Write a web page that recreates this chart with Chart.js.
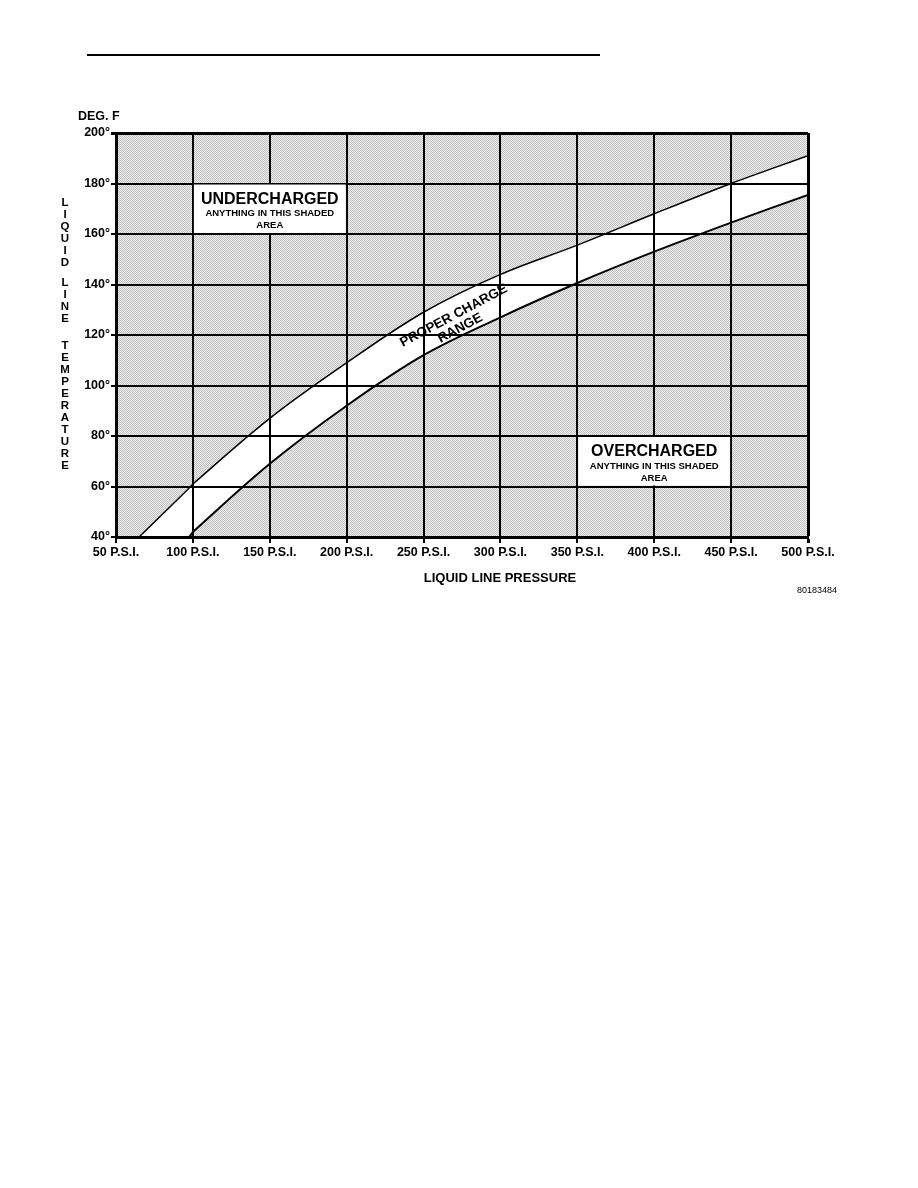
<!DOCTYPE html>
<html>
<head>
<meta charset="utf-8">
<script src="https://cdn.jsdelivr.net/npm/chart.js@4.4.1/dist/chart.umd.min.js"></script>
<style>
  body { margin: 0; background: #fff; }
  .rule { position: absolute; left: 87px; top: 54px; width: 513px; height: 2px; background: #000; }
  #chart { position: absolute; left: 0; top: 0; }
</style>
</head>
<body>
<div class="rule"></div>
<canvas id="chart" width="918" height="640"></canvas>
<script>
// liquid line pressure (psi) and the two edges of the proper charge band (deg F)
const pressure  = [65, 97, 100, 150, 200, 250, 300, 350,   400, 450,   500];
const upperTemp = [40, 59, 61,  87,  109, 129, 144, 155.6, 168, 180,   191];
const lowerTemp = [40, 40, 42,  69,  92,  112, 127, 140.6, 153, 164.5, 175.5];

const xTickLabels = ['50 P.S.I.', '100 P.S.I.', '150 P.S.I.', '200 P.S.I.', '250 P.S.I.',
                     '300 P.S.I.', '350 P.S.I.', '400 P.S.I.', '450 P.S.I.', '500 P.S.I.'];
const yTickLabels = ['40°', '60°', '80°', '100°', '120°', '140°', '160°', '180°', '200°'];

const FONT = '"Liberation Sans", Arial, sans-serif';

// light gray dotted screen for the shaded areas
function makePattern(ctx) {
    const c = document.createElement('canvas');
    c.width = 4; c.height = 4;
    const g = c.getContext('2d');
    g.fillStyle = '#ececec';
    g.fillRect(0, 0, 4, 4);
    g.fillStyle = '#c2c2c2';
    for (let y = 0; y < 4; y++) {
        for (let x = 0; x < 4; x++) {
            if ((x + y) % 2 === 0) g.fillRect(x, y, 1, 1);
        }
    }
    return ctx.createPattern(c, 'repeat');
}

const shadePlugin = {
    id: 'shade',
    beforeDraw(chart) {
        const { ctx, chartArea: a } = chart;
        ctx.save();
        ctx.fillStyle = makePattern(ctx);
        ctx.fillRect(a.left, a.top, a.right - a.left, a.bottom - a.top);
        ctx.restore();
    }
};

function labelBox(chart, x0, x1, y0, y1, title) {
    const { ctx, scales: { x, y } } = chart;
    const l = x.getPixelForValue(x0) + 1, r = x.getPixelForValue(x1) - 1;
    const t = y.getPixelForValue(y1) + 1, b = y.getPixelForValue(y0) - 1;
    ctx.fillStyle = '#fff';
    ctx.fillRect(l, t, r - l, b - t);
    const cx = (l + r) / 2;
    ctx.fillStyle = '#000';
    ctx.textAlign = 'center';
    ctx.textBaseline = 'middle';
    ctx.font = 'bold 16px ' + FONT;
    ctx.fillText(title, cx, t + 15);
    ctx.font = 'bold 9.5px ' + FONT;
    ctx.fillText('ANYTHING IN THIS SHADED', cx, t + 29);
    ctx.fillText('AREA', cx, t + 41);
}

const textPlugin = {
    id: 'texts',
    afterDraw(chart) {
        const { ctx, scales: { x, y } } = chart;
        ctx.save();
        labelBox(chart, 100, 200, 160, 180, 'UNDERCHARGED');
        labelBox(chart, 350, 450, 60, 80, 'OVERCHARGED');

        // band label
        ctx.save();
        ctx.translate(x.getPixelForValue(269), y.getPixelForValue(128.3));
        ctx.rotate(-28 * Math.PI / 180);
        ctx.fillStyle = '#000';
        ctx.textAlign = 'center';
        ctx.textBaseline = 'middle';
        ctx.font = 'bold 13.5px ' + FONT;
        ctx.fillText('PROPER CHARGE', 0, 2);
        ctx.fillText('RANGE', 0, 16);
        ctx.restore();

        ctx.fillStyle = '#000';
        ctx.textBaseline = 'middle';
        ctx.font = 'bold 12.5px ' + FONT;
        ctx.textAlign = 'left';
        ctx.fillText('DEG. F', 78, 117);

        // stacked y title, one letter per row
        ctx.textAlign = 'center';
        ctx.font = 'bold 11.5px ' + FONT;
        const words = ['LIQUID', 'LINE', 'TEMPERATURE'];
        const starts = [203, 283, 346];
        words.forEach((w, k) => {
            w.split('').forEach((ch, i) => ctx.fillText(ch, 65, starts[k] + i * 12));
        });

        ctx.font = 'bold 13px ' + FONT;
        ctx.fillText('LIQUID LINE PRESSURE', 500, 578);

        ctx.font = '9px ' + FONT;
        ctx.textAlign = 'right';
        ctx.fillText('80183484', 837, 591);
        ctx.restore();
    }
};

// outer frame lines a bit heavier than the inner grid
const edgeWidth = max => ctx => (ctx.tick && ctx.tick.value === max ? 3 : 2);

new Chart(document.getElementById('chart'), {
    type: 'line',
    data: {
        datasets: [{
            label: 'upper',
            data: pressure.map((p, i) => ({ x: p, y: upperTemp[i] })),
            borderColor: '#000',
            borderWidth: 1.5,
            backgroundColor: '#fff',
            fill: '+1',
            pointRadius: 0,
            tension: 0.35
        }, {
            label: 'lower',
            data: pressure.map((p, i) => ({ x: p, y: lowerTemp[i] })),
            borderColor: '#000',
            borderWidth: 2,
            fill: false,
            pointRadius: 0,
            tension: 0.35
        }]
    },
    options: {
        responsive: false,
        animation: false,
        events: [],
        layout: { padding: { left: 0, top: 133, right: 110, bottom: 73 } },
        plugins: {
            legend: { display: false },
            tooltip: { enabled: false },
            filler: { drawTime: 'beforeDatasetsDraw' }
        },
        scales: {
            x: {
                type: 'linear',
                min: 50,
                max: 500,
                afterFit: s => { s.height = 30; },
                ticks: {
                    stepSize: 50,
                    color: '#000',
                    padding: 2,
                    maxRotation: 0,
                    font: { family: FONT, size: 12.5, weight: 'bold' },
                    callback: (v, i) => xTickLabels[i]
                },
                grid: { color: '#000', lineWidth: edgeWidth(500), tickLength: 6, z: 1 },
                border: { color: '#000', width: 3, z: 1 }
            },
            y: {
                min: 40,
                max: 200,
                afterFit: s => { s.width = 116; },
                ticks: {
                    stepSize: 20,
                    color: '#000',
                    padding: 1,
                    font: { family: FONT, size: 12.5, weight: 'bold' },
                    callback: (v, i) => yTickLabels[i]
                },
                grid: { color: '#000', lineWidth: edgeWidth(200), tickLength: 5, z: 1 },
                border: { color: '#000', width: 3, z: 1 }
            }
        }
    },
    plugins: [shadePlugin, textPlugin]
});
</script>
</body>
</html>
